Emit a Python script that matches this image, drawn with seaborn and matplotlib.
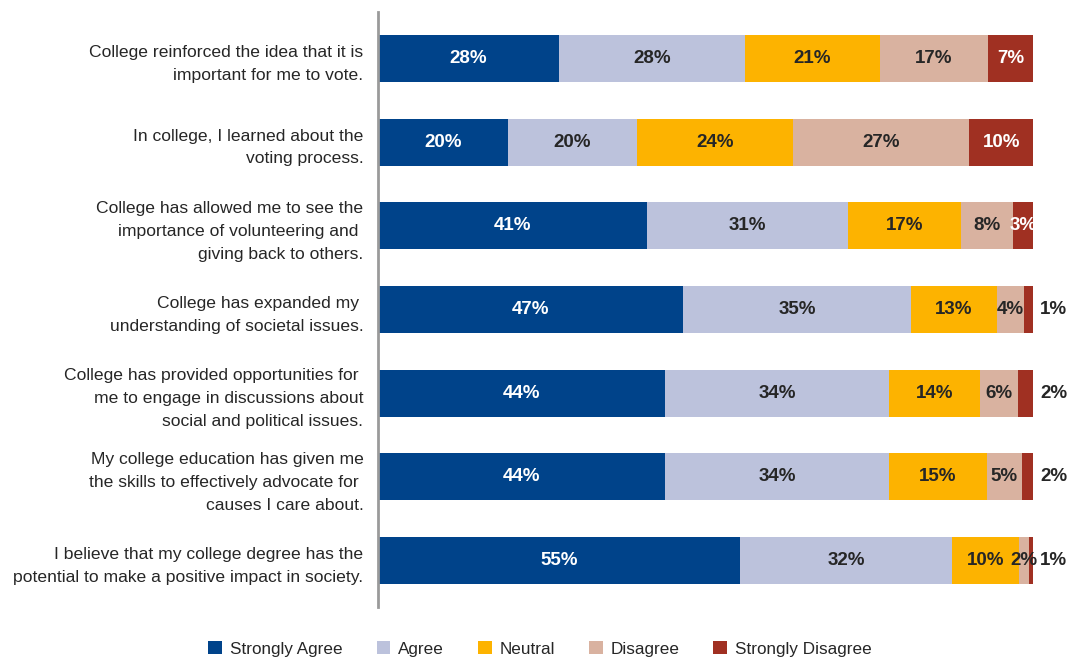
import matplotlib
matplotlib.use("Agg")
import matplotlib.pyplot as plt
from matplotlib.patches import Patch
import seaborn as sns
import pandas as pd
import numpy as np

questions = [
    "College reinforced the idea that it is\nimportant for me to vote.",
    "In college, I learned about the\nvoting process.",
    "College has allowed me to see the\nimportance of volunteering and \ngiving back to others.",
    "College has expanded my \nunderstanding of societal issues.",
    "College has provided opportunities for \nme to engage in discussions about\nsocial and political issues.",
    "My college education has given me\nthe skills to effectively advocate for \ncauses I care about.",
    "I believe that my college degree has the\npotential to make a positive impact in society.",
]
series_names = ["Strongly Agree", "Agree", "Neutral", "Disagree", "Strongly Disagree"]
strongly_agree = [27.6, 19.8, 41.1, 46.6, 43.8, 43.8, 55.3]
agree = [28.4, 19.7, 30.6, 34.8, 34.2, 34.2, 32.4]
neutral = [20.6, 23.8, 17.3, 13.1, 13.9, 15.0, 10.1]
disagree = [16.6, 27.0, 7.9, 4.1, 5.8, 5.3, 1.6]
strongly_disagree = [6.8, 9.7, 3.1, 1.4, 2.3, 1.7, 0.6]

colors = ["#00438A", "#BCC2DC", "#FDB300", "#D9B2A0", "#A03022"]
label_colors = ["white", "#262626", "#262626", "#262626", "white"]

sns.set_theme(style="white")
plt.rcParams["font.family"] = ["Liberation Sans", "DejaVu Sans"]

series = [strongly_agree, agree, neutral, disagree, strongly_disagree]
vals = np.array(series)  # shape (5, 7)
cum = np.cumsum(vals, axis=0)

fig = plt.figure(figsize=(10.7, 6.6), dpi=100)
ax = fig.add_axes([378 / 1070, 1 - 607 / 660, 692 / 1070, (607 - 12) / 660])

# draw from the full stack down to the first segment so each covers the next
for i in range(len(series_names) - 1, -1, -1):
    df = pd.DataFrame({"question": questions, "cum": cum[i]})
    sns.barplot(data=df, x="cum", y="question", orient="h", color=colors[i],
                width=0.56, saturation=1, ax=ax, order=questions, errorbar=None,
                linewidth=0, edgecolor="none")

ax.set_xlim(0, 100 * 692 / 655)
ax.set_ylim(6.556, -0.556)
ax.set_xlabel("")
ax.set_ylabel("")
ax.set_xticks([])
ax.tick_params(axis="y", length=0, pad=10.5)
for lab in ax.get_yticklabels():
    lab.set_fontsize(12.6)
    lab.set_color("#262626")
    lab.set_horizontalalignment("right")
    lab.set_multialignment("right")
    lab.set_linespacing(1.65)
for s in ["top", "right", "bottom"]:
    ax.spines[s].set_visible(False)
ax.spines["left"].set_color("#9a9a9a")
ax.spines["left"].set_linewidth(2)

# value labels
for i in range(len(series_names)):
    for j in range(len(questions)):
        v = vals[i, j]
        txt = f"{int(round(v))}%"
        if i == 4 and v < 2.5:
            ax.annotate(txt, xy=(cum[i, j], j), xytext=(5, 0), textcoords="offset points",
                        ha="left", va="center", fontsize=13.5, fontweight="bold",
                        color="#262626")
        else:
            ax.text(cum[i, j] - v / 2, j, txt, ha="center", va="center",
                    fontsize=13.5, fontweight="bold", color=label_colors[i])

handles = [Patch(facecolor=c, edgecolor="none") for c in colors]
fig.legend(handles, series_names, loc="center", bbox_to_anchor=(540 / 1070, 1 - 649 / 660),
           ncol=5, frameon=False, fontsize=12.3, handlelength=0.8, handleheight=0.8,
           columnspacing=2.0, handletextpad=0.45, labelcolor="#262626")

fig.savefig("out.png", dpi=100)
